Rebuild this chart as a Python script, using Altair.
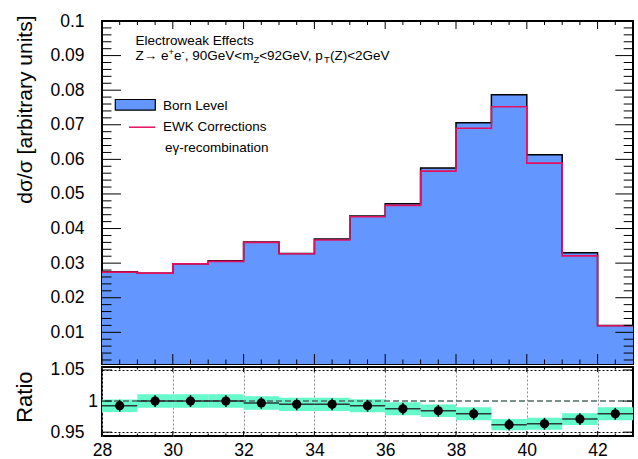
import altair as alt
import pandas as pd

# ---- data: 1 GeV bins from 28 to 43 ----
BIN_LO = [28, 29, 30, 31, 32, 33, 34, 35, 36, 37, 38, 39, 40, 41, 42]
BIN_WIDTH = 1
BORN = [0.0275, 0.0271, 0.0298, 0.0307, 0.0361, 0.0328, 0.0370, 0.0436,
        0.0472, 0.0575, 0.0706, 0.0787, 0.0613, 0.0330, 0.0120]
EWK = [0.0274, 0.0271, 0.0298, 0.0305, 0.0360, 0.0327, 0.0367, 0.0434,
       0.0467, 0.0566, 0.0690, 0.0752, 0.0589, 0.0321, 0.0119]
RATIO = [0.9925, 1.0000, 1.0000, 1.0000, 0.9970, 0.9947, 0.9947, 0.9924,
         0.9876, 0.9844, 0.9795, 0.9620, 0.9635, 0.9710, 0.9795]
RATIO_BAND = [0.0102, 0.0108, 0.0108, 0.0108, 0.0108, 0.0105, 0.0105, 0.0105,
              0.0105, 0.0102, 0.0105, 0.0091, 0.0097, 0.0094, 0.0105]
RATIO_ERR = [0.0095] * 15

# axis labels and tick positions
X_LABELS = [28, 30, 32, 34, 36, 38, 40, 42]
X_MINOR = [28 + 0.5 * i for i in range(1, 30) if i % 4 != 0]
Y_LABELS = [0.01, 0.02, 0.03, 0.04, 0.05, 0.06, 0.07, 0.08, 0.09, 0.1]
Y_MINOR = [round(0.002 * i, 3) for i in range(1, 50) if i % 5 != 0]
R_LABELS = [0.95, 1.0, 1.05]

FONT = "Liberation Sans"
BLUE = "#6496ff"
RED = "#e3105f"
BAND = "#66f9c9"
W, H, HR = 531, 343, 69

edges = BIN_LO + [BIN_LO[-1] + BIN_WIDTH]
hist = pd.DataFrame({"x": edges, "born": BORN + BORN[-1:], "ewk": EWK + EWK[-1:]})
ratio = pd.DataFrame({
    "lo": BIN_LO,
    "hi": [b + BIN_WIDTH for b in BIN_LO],
    "mid": [b + BIN_WIDTH / 2 for b in BIN_LO],
    "r": RATIO,
    "band_lo": [r - b for r, b in zip(RATIO, RATIO_BAND)],
    "band_hi": [r + b for r, b in zip(RATIO, RATIO_BAND)],
    "err_lo": [r - e for r, e in zip(RATIO, RATIO_ERR)],
    "err_hi": [r + e for r, e in zip(RATIO, RATIO_ERR)],
})
one = pd.DataFrame({"k": [0]})


def xticks(values, scale, y0, y1):
    """Inward tick marks along a horizontal frame edge."""
    return alt.Chart(pd.DataFrame({"v": values})).mark_rule(color="black", strokeWidth=1).encode(
        x=alt.X("v:Q", scale=scale, axis=None), y=alt.value(y0), y2=alt.value(y1))


def yticks(values, scale, x0, x1):
    """Inward tick marks along a vertical frame edge."""
    return alt.Chart(pd.DataFrame({"v": values})).mark_rule(color="black", strokeWidth=1).encode(
        y=alt.Y("v:Q", scale=scale, axis=None), x=alt.value(x0), x2=alt.value(x1))


def text(t, x, y, size=13.5):
    return alt.Chart(one).mark_text(text=t, align="left", baseline="alphabetic", font=FONT,
                                    fontSize=size, color="black").encode(
        x=alt.value(x), y=alt.value(y))


# ---- upper panel ----
xs = alt.Scale(domain=[28, 43], nice=False, zero=False)
ys = alt.Scale(domain=[0.00084, 0.1], nice=False, zero=False)

base = alt.Chart(hist)
area = base.mark_area(interpolate="step-after", color=BLUE, clip=True).encode(
    x=alt.X("x:Q", scale=xs, axis=None),
    y=alt.Y("born:Q", scale=ys, axis=alt.Axis(
        orient="left", values=Y_LABELS, labelExpr="format(datum.value, '.2~f')",
        tickSize=0, labelPadding=18, domain=False, grid=False,
        title="dσ/σ [arbitrary units]", titleAngle=270, titleAlign="right",
        titleBaseline="alphabetic", titleX=-71, titleY=-6, titleFontSize=21)),
)
born_line = base.mark_line(interpolate="step-after", color="black", strokeWidth=1.5, clip=True).encode(
    x=alt.X("x:Q", scale=xs, axis=None),
    y=alt.Y("born:Q", scale=ys, axis=None),
)
ewk_line = base.mark_line(interpolate="step-after", color=RED, strokeWidth=1.6, clip=True).encode(
    x=alt.X("x:Q", scale=xs, axis=None),
    y=alt.Y("ewk:Q", scale=ys, axis=None),
)

upper_ticks = [
    xticks(X_LABELS, xs, H, H - 10), xticks(X_MINOR, xs, H, H - 4.5),
    xticks(X_LABELS, xs, 0, 8), xticks(X_MINOR, xs, 0, 4),
    yticks(Y_LABELS, ys, 0, 19), yticks(Y_MINOR, ys, 0, 9.5),
    yticks(Y_LABELS, ys, W, W - 17.7), yticks(Y_MINOR, ys, W, W - 9.3),
]

legend_box = alt.Chart(one).mark_rect(fill=BLUE, stroke="black", strokeWidth=1.2).encode(
    x=alt.value(13.3), x2=alt.value(53.3), y=alt.value(78.5), y2=alt.value(89.2))
legend_line = alt.Chart(one).mark_rule(color=RED, strokeWidth=1.5).encode(
    x=alt.value(27), x2=alt.value(53.3), y=alt.value(106.2))

# Arial advance widths (1/1000 em) for laying out the sub/superscript line
ADV = {"Z": 611, "→": 1000, " ": 278, "e": 556, "+": 584, "-": 333, ",": 278, "9": 556,
       "0": 556, "G": 778, "V": 667, "<": 584, "m": 833, "2": 556, "p": 556, "T": 611,
       "(": 333, ")": 333}
PIECES = [("Z→ e", "n"), ("+", "sup"), ("e", "n"), ("-", "sup"), (", 90GeV<m", "n"),
          ("Z", "sub"), ("<92GeV, p", "n"), ("T", "sub"), ("(Z)<2GeV", "n")]
SIZE_MAIN, SIZE_SMALL = 13.5, 9.5
BASE_Y = 38.5
formula = []
cx = 33.5
for s, kind in PIECES:
    size = SIZE_MAIN if kind == "n" else SIZE_SMALL
    yy = BASE_Y + {"n": 0, "sup": -5, "sub": 3.2}[kind]
    formula.append(text(s, cx, yy, size))
    cx += sum(ADV[c] for c in s) * size / 1000

upper = alt.layer(
    area, born_line, ewk_line, *upper_ticks,
    legend_box, legend_line,
    text("Born Level", 61, 89.2), text("EWK Corrections", 61, 110.2),
    text("eγ-recombination", 63, 131),
    text("Electroweak Effects", 33.5, 23.5),
    *formula,
).resolve_scale(x="shared", y="shared").resolve_axis(
    x="independent", y="independent").properties(width=W, height=H)

# ---- ratio panel ----
rs = alt.Scale(domain=[0.9438, 1.0548], nice=False, zero=False)
rbase = alt.Chart(ratio)

band = rbase.mark_rect(color=BAND, opacity=1).encode(
    x=alt.X("lo:Q", scale=xs, axis=alt.Axis(
        orient="bottom", values=X_LABELS, labelExpr="format(datum.value, 'd')",
        tickSize=0, labelPadding=5, domain=False, title=None,
        grid=True, gridColor="#8a8a8a", gridDash=[2, 2], gridWidth=1)),
    x2="hi:Q",
    y=alt.Y("band_lo:Q", scale=rs, axis=alt.Axis(
        orient="left", values=R_LABELS, labelExpr="format(datum.value, '.2~f')",
        tickSize=0,
        labelPadding={"condition": {"test": "datum.value == 1", "value": 4.5}, "value": 18},
        domain=False, title="Ratio", titleAngle=270, titleAlign="right",
        titleBaseline="alphabetic", titleX=-71, titleY=4, titleFontSize=22,
        grid=True, gridColor="black", gridDash=[2, 2], gridWidth=1,
        gridOpacity={"condition": {"test": "datum.value == 1", "value": 0}, "value": 1})),
    y2="band_hi:Q",
)
unity = alt.Chart(one).mark_rule(color="#4d6e63", strokeDash=[6, 3], strokeWidth=1.5).encode(
    y=alt.YDatum(1.0, scale=rs, axis=None))
hbars = rbase.mark_rule(color="#1a1a1a", strokeWidth=1.5, opacity=0.85).encode(
    x=alt.X("lo:Q", scale=xs, axis=None), x2="hi:Q",
    y=alt.Y("r:Q", scale=rs, axis=None),
)
vbars = rbase.mark_rule(color="black", strokeWidth=1.5).encode(
    x=alt.X("mid:Q", scale=xs, axis=None),
    y=alt.Y("err_lo:Q", scale=rs, axis=None), y2="err_hi:Q",
)
points = rbase.mark_circle(color="black", opacity=1, size=85).encode(
    x=alt.X("mid:Q", scale=xs, axis=None),
    y=alt.Y("r:Q", scale=rs, axis=None),
)
lower_ticks = [
    xticks(X_LABELS, xs, HR, HR - 5), xticks(X_MINOR, xs, HR, HR - 2.5),
    xticks(X_LABELS, xs, 0, 5), xticks(X_MINOR, xs, 0, 2.5),
    yticks(R_LABELS, rs, 0, 10), yticks(R_LABELS, rs, W, W - 10),
]

lower = alt.layer(band, unity, hbars, vbars, points, *lower_ticks).resolve_scale(
    x="shared", y="shared").resolve_axis(
    x="independent", y="independent").properties(width=W, height=HR)

chart = alt.vconcat(upper, lower, spacing=3, bounds="flush").configure(
    font=FONT,
    padding={"left": 12, "top": 11, "right": 0, "bottom": 5},
    background="white",
).configure_view(
    stroke="black", strokeWidth=2,
).configure_axis(
    labelFont=FONT, labelFontSize=17.5, labelColor="black", labelFlush=False,
    titleFont=FONT, titleFontWeight="normal", titleColor="black",
)

chart.save("out.html", embed_options={"renderer": "svg", "actions": False})
